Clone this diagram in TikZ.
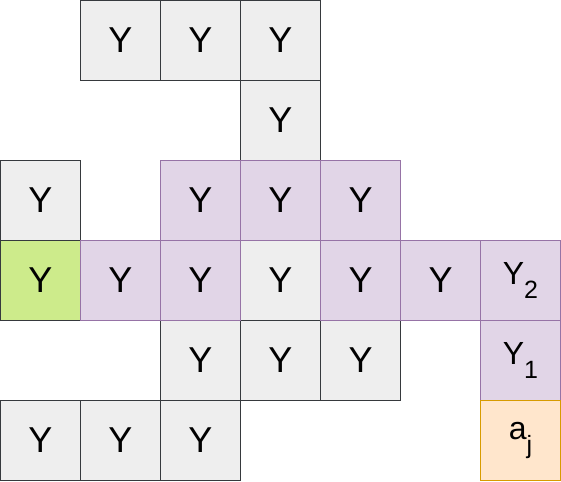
\documentclass[tikz,border=0pt]{standalone}
\usepackage{fontspec}
\setmainfont{Liberation Sans}
\definecolor{grayfill}{HTML}{EEEEEE}
\definecolor{graystroke}{HTML}{36393D}
\definecolor{purplefill}{HTML}{E1D5E7}
\definecolor{purplestroke}{HTML}{9673A6}
\definecolor{greenfill}{HTML}{CDEB8B}
\definecolor{orangefill}{HTML}{FFE6CC}
\definecolor{orangestroke}{HTML}{D79B00}
\newcommand{\subtxt}[2]{{\fontsize{32}{32}\selectfont #1}\raisebox{-13.4pt}{\fontsize{25}{25}\selectfont #2}}
\tikzset{
  cell/.style={draw, line width=1pt, minimum width=80pt, minimum height=80pt, inner sep=0pt, anchor=center,
     font=\fontsize{36}{36}\selectfont},
  graycell/.style={cell, fill=grayfill, draw=graystroke},
  purplecell/.style={cell, fill=purplefill, draw=purplestroke},
  greencell/.style={cell, fill=greenfill, draw=graystroke},
  orangecell/.style={cell, fill=orangefill, draw=orangestroke},
  lbl/.style={inner sep=0pt, anchor=center, font=\fontsize{36}{36}\selectfont}
}
\begin{document}
\begin{tikzpicture}[x=1pt,y=-1pt]
\useasboundingbox (0,0) rectangle (561,481);
% row 0
\node[graycell] (c01) at (120.5,40.5) {};
\node[graycell] (c02) at (200.5,40.5) {};
\node[graycell] (c03) at (280.5,40.5) {};
% row 1
\node[graycell] (c13) at (280.5,120.5) {};
% row 2
\node[graycell] (c20) at (40.5,200.5) {};
% row 3 gray
\node[greencell] (c30) at (40.5,280.5) {};
\node[graycell] (c33) at (280.5,280.5) {};
% row 4
\node[graycell] (c42) at (200.5,360.5) {};
\node[graycell] (c43) at (280.5,360.5) {};
\node[graycell] (c44) at (360.5,360.5) {};
% row 5
\node[graycell] (c50) at (40.5,440.5) {};
\node[graycell] (c51) at (120.5,440.5) {};
\node[graycell] (c52) at (200.5,440.5) {};
% purple
\node[purplecell] (c22) at (200.5,200.5) {};
\node[purplecell] (c23) at (280.5,200.5) {};
\node[purplecell] (c24) at (360.5,200.5) {};
\node[purplecell] (c31) at (120.5,280.5) {};
\node[purplecell] (c32) at (200.5,280.5) {};
\node[purplecell] (c34) at (360.5,280.5) {};
\node[purplecell] (c35) at (440.5,280.5) {};
\node[purplecell] (c36) at (520.5,280.5) {};
\node[purplecell] (c46) at (520.5,360.5) {};
\node[orangecell] (c56) at (520.5,440.5) {};
% labels
\foreach \n in {c01,c02,c03,c13,c20,c30,c33,c42,c43,c44,c50,c51,c52,c22,c23,c24,c31,c32,c34,c35}
  \node[lbl] at (\n.center) {Y};
\node[lbl] at (c36.center) {\subtxt{Y}{2}};
\node[lbl] at (c46.center) {\subtxt{Y}{1}};
\node[lbl] at (c56.center) {\subtxt{a}{j}};
\end{tikzpicture}
\end{document}
